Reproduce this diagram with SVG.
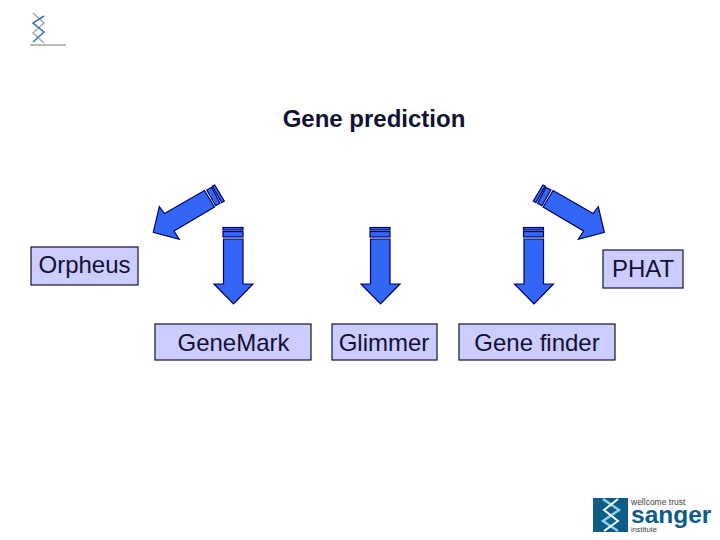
<svg xmlns="http://www.w3.org/2000/svg" width="720" height="540" viewBox="0 0 720 540">
<style>
text{font-family:"Liberation Sans",Arial,sans-serif;fill:#111133}
.lbl{font-size:24px;text-anchor:middle}
.box{fill:#ccccff;stroke:#111133;stroke-width:1.2}
.arw{fill:#3366f5;stroke:#000066;stroke-width:1.2;stroke-linejoin:miter}
</style>
<defs>
<g id="down">
<rect class="arw" x="223" y="227.500" width="20" height="2.500"/>
<rect class="arw" x="223" y="231.500" width="20" height="5.500"/>
<polygon class="arw" points="223.500,239 243,239 243,284 253,284 233.500,304 214,284 223.500,284"/>
</g>
<g id="diag">
<polygon class="arw" points="206.700,190 211.700,187.300 220,203.300 215.700,205.700"/>
<polygon class="arw" points="212.300,186 214.700,185 224.300,201 221.700,202.700"/>
<polygon class="arw" points="204.500,190.500 214.500,207 174,231 179.300,239.300 153.300,232.300 159.300,206.700 164.500,213.500"/>
</g>
</defs>
<rect width="720" height="540" fill="#ffffff"/>
<g id="logo-top">
<path d="M33 13 L44 23 L33 33 L44 43" fill="none" stroke="#a8a8a8" stroke-width="1.500"/>
<path d="M44 16 L33 23 L44 32 L33 42" fill="none" stroke="#3a78b5" stroke-width="1.600"/>
<line x1="30" y1="45" x2="66" y2="45" stroke="#777777" stroke-width="1"/>
</g>
<text id="title" x="374" y="127" style="font-weight:bold;font-size:24px">
<tspan text-anchor="middle">Gene prediction</tspan></text>
<g id="connectors">
<use href="#diag"/>
<use href="#diag" transform="matrix(-1 0 0 1 757.600 0)"/>
<use href="#down"/>
<use href="#down" x="147"/>
<use href="#down" x="300.500"/>
</g>
<g id="orpheus"><rect class="box" x="31" y="247" width="107" height="38"/><text class="lbl" x="84.500" y="273">Orpheus</text></g>
<g id="phat"><rect class="box" x="603" y="250" width="80" height="38"/><text class="lbl" x="643" y="277">PHAT</text></g>
<g id="genemark"><rect class="box" x="155" y="324" width="156" height="36"/><text class="lbl" x="233.500" y="351">GeneMark</text></g>
<g id="glimmer"><rect class="box" x="332" y="324" width="105" height="36"/><text class="lbl" x="384" y="351">Glimmer</text></g>
<g id="genefinder"><rect class="box" x="459" y="324" width="156" height="36"/><text class="lbl" x="537" y="351">Gene finder</text></g>
<g id="logo-sanger">
<rect x="593" y="498" width="35" height="34" fill="#0f5c86"/>
<path d="M603 499 L619 510 L603 521 L618 531" fill="none" stroke="#8fd0ee" stroke-width="2.500"/>
<path d="M618 499 L604 510 L618 521 L604 531" fill="none" stroke="#ffffff" stroke-width="2"/>
<text x="631" y="505" style="font-size:8.500px;fill:#444444">wellcome trust</text>
<text x="631" y="523" style="font-size:24.500px;font-weight:bold;fill:#0f5c86">sanger</text>
<text x="631" y="532" style="font-size:7.500px;fill:#444444">institute</text>
</g>
</svg>
